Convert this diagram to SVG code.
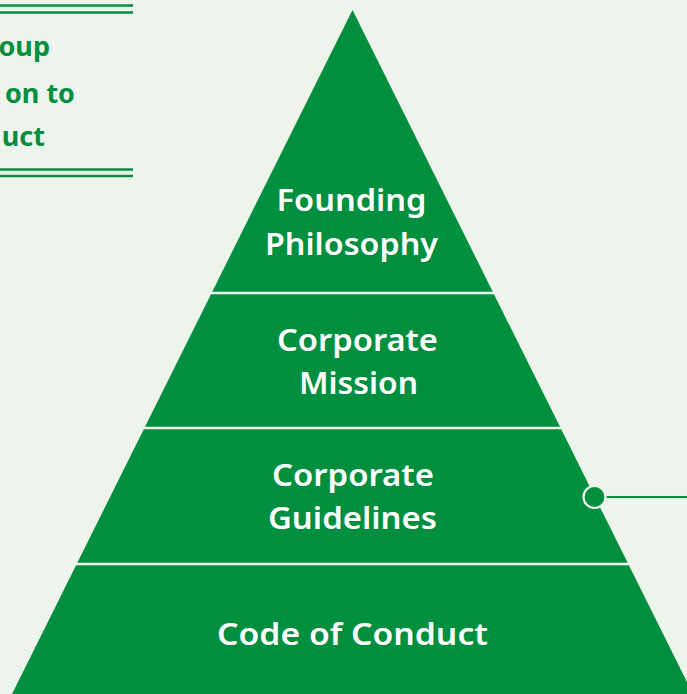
<svg xmlns="http://www.w3.org/2000/svg" width="687" height="694" viewBox="0 0 687 694">
  <style>
    .bg { fill: #EDF4EC; }
    .tier { fill: #008F3E; }
    .gap { stroke: #EDF4EC; stroke-width: 2.5; }
    .rule { stroke: #008F3E; stroke-width: 2.6; }
    .label { font-family: "Noto Sans", "Open Sans", sans-serif; font-weight: 600; font-size: 31px; fill: #FFFFFF; text-anchor: middle; }
    .side { font-family: "Noto Sans", "Open Sans", sans-serif; font-weight: 700; font-size: 27px; fill: #008F3E; text-anchor: end; }
    .link { stroke: #008F3E; stroke-width: 2.2; fill: none; }
  </style>
  <rect class="bg" x="0" y="0" width="687" height="694"/>

  <!-- side caption with double rules -->
  <g id="caption">
    <line class="rule" x1="0" y1="5.5" x2="133" y2="5.5"/>
    <line class="rule" x1="0" y1="12.5" x2="133" y2="12.5"/>
    <text class="side" x="50" y="56">oup</text>
    <text class="side" x="75" y="103">on to</text>
    <text class="side" x="45" y="146">uct</text>
    <line class="rule" x1="0" y1="169.5" x2="133" y2="169.5"/>
    <line class="rule" x1="0" y1="176" x2="133" y2="176"/>
  </g>

  <!-- pyramid body -->
  <g id="pyramid">
    <polygon class="tier" points="352.5,10 693,694 12,694"/>
    <line class="gap" x1="200" y1="293" x2="505" y2="293"/>
    <line class="gap" x1="130" y1="428" x2="575" y2="428"/>
    <line class="gap" x1="60" y1="564" x2="645" y2="564"/>
  </g>

  <g id="founding-philosophy">
    <text class="label" x="351.5" y="211" textLength="150" lengthAdjust="spacingAndGlyphs">Founding</text>
    <text class="label" x="351.5" y="255" textLength="173" lengthAdjust="spacingAndGlyphs">Philosophy</text>
  </g>
  <g id="corporate-mission">
    <text class="label" x="357.5" y="351" textLength="161" lengthAdjust="spacingAndGlyphs">Corporate</text>
    <text class="label" x="358.5" y="394" textLength="119" lengthAdjust="spacingAndGlyphs">Mission</text>
  </g>
  <g id="corporate-guidelines">
    <text class="label" x="353" y="486" textLength="162" lengthAdjust="spacingAndGlyphs">Corporate</text>
    <text class="label" x="352.5" y="529" textLength="169" lengthAdjust="spacingAndGlyphs">Guidelines</text>
  </g>
  <g id="code-of-conduct">
    <text class="label" x="352.5" y="645" textLength="271" lengthAdjust="spacingAndGlyphs">Code of Conduct</text>
  </g>

  <!-- connector leaving the guidelines tier -->
  <g id="connectors">
    <line class="link" x1="604" y1="497" x2="687" y2="497"/>
    <circle cx="594.5" cy="497" r="11" fill="#008F3E" stroke="#EDF4EC" stroke-width="2.2"/>
  </g>
</svg>
